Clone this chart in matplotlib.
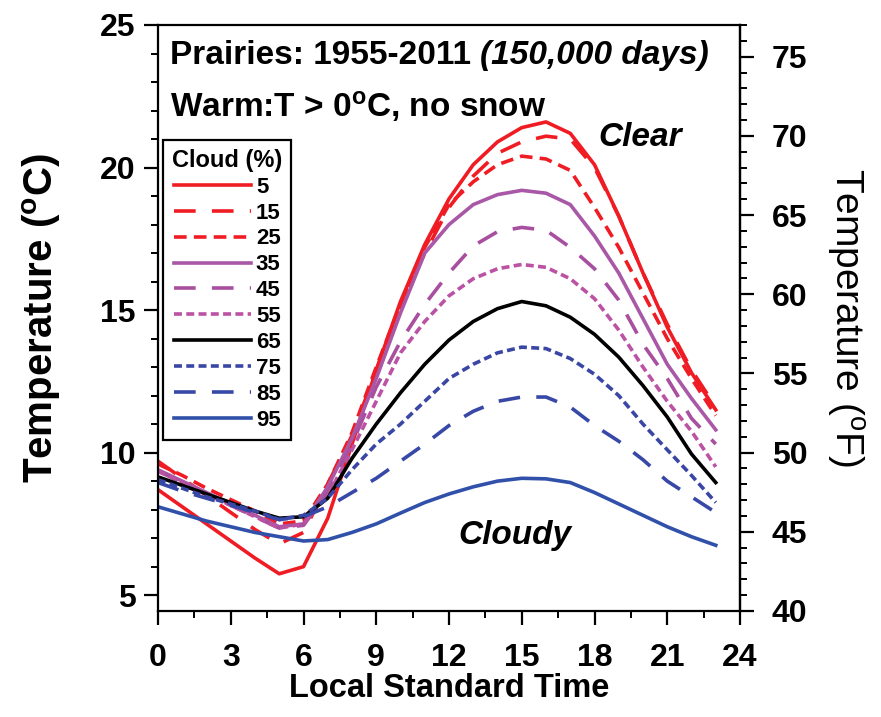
import numpy as np
import matplotlib.pyplot as plt
from matplotlib.ticker import MultipleLocator

plt.rcParams['font.family'] = ['Liberation Sans', 'DejaVu Sans']
plt.rcParams['mathtext.fontset'] = 'custom'
plt.rcParams['mathtext.rm'] = 'Liberation Sans'
plt.rcParams['mathtext.it'] = 'Liberation Sans:italic'
plt.rcParams['mathtext.bf'] = 'Liberation Sans:bold'

# hourly mean temperature (deg C) for each opaque cloud class
hours = np.arange(24)
cloud = [5, 15, 25, 35, 45, 55, 65, 75, 85, 95]
t05 = [8.7, 8.1, 7.5, 6.9, 6.3, 5.75, 6.0, 7.7, 10.3, 12.9, 15.3, 17.3,
       18.9, 20.1, 20.9, 21.4, 21.6, 21.2, 20.1, 18.3, 16.3, 14.4, 12.8, 11.5]
t15 = [9.7, 9.1, 8.5, 7.9, 7.3, 6.8, 7.2, 8.9, 10.6, 12.9, 15.1, 17.0,
       18.6, 19.7, 20.5, 20.9, 21.1, 21.0, 20.0, 18.3, 16.3, 14.5, 12.9, 11.6]
t25 = [9.6, 9.2, 8.75, 8.35, 7.95, 7.5, 7.6, 8.9, 10.7, 13.0, 15.2, 17.2,
       18.7, 19.5, 20.1, 20.4, 20.3, 19.9, 18.6, 17.2, 15.6, 14.0, 12.6, 11.3]
t35 = [9.4, 9.0, 8.6, 8.2, 7.8, 7.4, 7.5, 8.8, 10.5, 12.6, 14.9, 17.0,
       18.0, 18.7, 19.05, 19.2, 19.1, 18.7, 17.6, 16.3, 14.7, 13.1, 11.9, 10.8]
t45 = [9.35, 8.95, 8.55, 8.15, 7.75, 7.35, 7.45, 8.6, 10.3, 12.3, 13.9, 15.2,
       16.3, 17.25, 17.75, 17.9, 17.8, 17.2, 16.45, 15.35, 13.8, 12.6, 11.2, 10.3]
t55 = [9.35, 8.95, 8.55, 8.15, 7.75, 7.35, 7.5, 8.5, 10.1, 11.8, 13.5, 14.6,
       15.5, 16.1, 16.45, 16.6, 16.5, 16.1, 15.4, 14.3, 13.0, 11.8, 10.75, 9.5]
t65 = [9.15, 8.85, 8.55, 8.25, 7.95, 7.7, 7.75, 8.4, 9.8, 11.0, 12.1, 13.1,
       13.95, 14.6, 15.05, 15.3, 15.15, 14.75, 14.15, 13.35, 12.35, 11.25, 9.95, 8.95]
t75 = [9.05, 8.75, 8.45, 8.2, 7.95, 7.65, 7.8, 8.4, 9.4, 10.3, 11.0, 11.8,
       12.6, 13.1, 13.5, 13.7, 13.65, 13.3, 12.75, 12.0, 11.0, 10.1, 9.2, 8.25]
t85 = [8.95, 8.65, 8.4, 8.15, 7.9, 7.65, 7.75, 8.1, 8.6, 9.1, 9.7, 10.3,
       10.95, 11.45, 11.8, 11.95, 11.95, 11.6, 10.95, 10.4, 9.75, 9.0, 8.45, 7.9]
t95 = [8.1, 7.85, 7.6, 7.4, 7.2, 7.05, 6.9, 6.95, 7.2, 7.5, 7.88, 8.25,
       8.55, 8.8, 9.0, 9.1, 9.08, 8.95, 8.6, 8.2, 7.8, 7.4, 7.05, 6.75]
temps = [t05, t15, t25, t35, t45, t55, t65, t75, t85, t95]

red = '#f01c24'
colors = [red, red, red, '#a858a6', '#a84fa0', '#bb52a4', 'black',
          '#3a46a4', '#3848a6', '#3050aa']
styles = ['-', (0, (6, 4.5)), (0, (3.5, 2)), '-', (0, (6, 4.5)), (0, (2.2, 1.2)),
          '-', (0, (2.2, 1.2)), (0, (6, 4.5)), '-']

fig = plt.figure(figsize=(8.81, 7.17), dpi=100)
ax = fig.add_axes([158 / 881, 1 - 611 / 717, 582 / 881, 586 / 717])

for c, t, col, ls in zip(cloud, temps, colors, styles):
    ax.plot(hours, t, color=col, linestyle=ls, lw=2.6, label=str(c))

ax.set_xlim(0, 24)
ax.set_ylim((40 - 32) * 5 / 9, 25)
ax.set_xticks(np.arange(0, 25, 3))
ax.xaxis.set_minor_locator(MultipleLocator(1.5))
ax.set_yticks([5, 10, 15, 20, 25])
ax.yaxis.set_minor_locator(MultipleLocator(1))
ax.tick_params(which='major', direction='out', length=10, width=1.6, labelsize=23, pad=6)
ax.tick_params(axis='x', which='major', pad=13)
ax.tick_params(which='minor', direction='out', length=5, width=1.4)
for lab in ax.get_xticklabels() + ax.get_yticklabels():
    lab.set_fontweight('bold')
for s in ax.spines.values():
    s.set_linewidth(1.6)

sec = ax.secondary_yaxis('right', functions=(lambda c: c * 9 / 5 + 32,
                                             lambda f: (f - 32) * 5 / 9))
sec.set_yticks(np.arange(40, 80, 5))
sec.yaxis.set_minor_locator(MultipleLocator(1))
sec.tick_params(which='major', direction='out', length=10, width=1.6, labelsize=23, pad=13)
sec.tick_params(which='minor', direction='out', length=5, width=1.4)
for lab in sec.get_yticklabels():
    lab.set_fontweight('bold')
sec.spines['right'].set_linewidth(1.6)
sec.set_ylabel(r'Temperature ($^{\mathregular{o}}$F)', fontsize=28, rotation=270,
               labelpad=42)

ax.set_xlabel('Local Standard Time', fontsize=23.5, fontweight='bold', labelpad=0)
ax.set_ylabel(r'Temperature ($^{\mathbf{o}}$C)', fontsize=29, fontweight='bold',
              labelpad=27)

t1 = ax.text(0.02, 0.975, 'Prairies: 1955-2011 ', transform=ax.transAxes,
             fontsize=24, fontweight='bold', va='top', ha='left')
ax.annotate('(150,000 days)', xy=(1, 0), xycoords=t1, va='bottom', ha='left',
            fontsize=24, fontweight='bold', style='italic')
ax.text(0.02, 0.89, r'Warm:T > 0$^{\mathbf{o}}$C, no snow', transform=ax.transAxes,
        fontsize=24, fontweight='bold', va='top', ha='left')
ax.text(19.9, 21.05, 'Clear', fontsize=24, fontweight='bold', style='italic',
        ha='center', va='center')
ax.text(14.7, 7.1, 'Cloudy', fontsize=24, fontweight='bold', style='italic',
        ha='center', va='center')

leg = ax.legend(title='Cloud (%)', loc='upper left', bbox_to_anchor=(0.009, 0.804),
                borderaxespad=0, fontsize=16, title_fontsize=17, handlelength=3.5,
                handletextpad=0.2, labelspacing=0.22, fancybox=False,
                borderpad=0.4, framealpha=1)
leg.get_frame().set_edgecolor('black')
leg.get_frame().set_linewidth(1.6)
leg.get_title().set_fontweight('bold')
for txt in leg.get_texts():
    txt.set_fontweight('bold')

fig.savefig('out.png', dpi=100)
